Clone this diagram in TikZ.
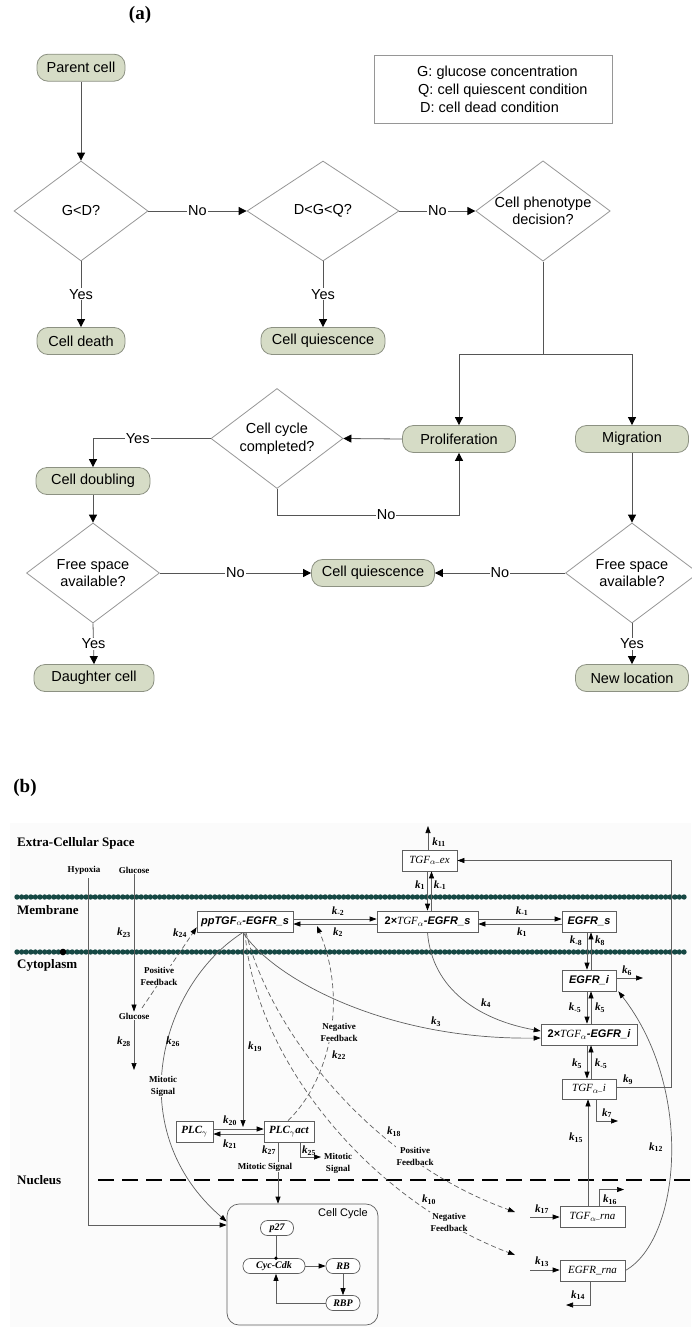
\documentclass[tikz,border=0pt]{standalone}
\usepackage{fontspec}
\setmainfont{Liberation Serif}
\setsansfont{Liberation Sans}
\usetikzlibrary{shapes.geometric,arrows.meta,calc}

\definecolor{termfill}{RGB}{214,220,198}
\definecolor{termdraw}{RGB}{140,145,130}
\definecolor{diadraw}{RGB}{150,150,150}
\definecolor{linea}{RGB}{85,85,85}
\definecolor{lineb}{RGB}{95,95,95}
\definecolor{memb}{RGB}{22,72,68}
\definecolor{bgb}{RGB}{251,251,251}

\newcommand{\kk}[1]{\textbf{\textit{k}}\textsubscript{\textbf{#1}}}
\newcommand{\al}{\textsubscript{$\alpha$}}
\newcommand{\sbi}{\sffamily\bfseries\itshape}
\newcommand{\rit}{\rmfamily\itshape}

\tikzset{
  term/.style={draw=termdraw, fill=termfill, rounded corners=11pt, minimum height=27pt, inner sep=0pt, line width=0.8pt, font=\sffamily\fontsize{14.5}{17.5}\selectfont},
  decis/.style={diamond, aspect=1.34, draw=diadraw, inner sep=0pt, minimum width=134pt, minimum height=100pt, line width=0.8pt, align=center, font=\sffamily\fontsize{14.5}{17.5}\selectfont},
  arra/.style={draw=linea, line width=0.8pt, -{Triangle[length=8pt,width=8pt,color=black]}},
  plaina/.style={draw=linea, line width=0.8pt},
  laba/.style={fill=white, inner sep=1pt, font=\sffamily\fontsize{14.5}{17.5}\selectfont},
  boxb/.style={draw=lineb, fill=white, inner sep=0pt, minimum height=21pt, line width=0.7pt, font=\fontsize{11}{13}\selectfont},
  ccn/.style={draw=lineb, fill=white, rounded corners=7pt, inner sep=0pt, minimum height=15pt, line width=0.7pt, font=\rmfamily\bfseries\itshape\fontsize{10}{12}\selectfont},
  lb/.style={draw=lineb, line width=0.7pt},
  ab/.style={lb, -{Triangle[length=7pt,width=5pt,color=black]}},
  db/.style={ab, dash pattern=on 5pt off 3pt},
  kl/.style={inner sep=0pt, font=\fontsize{11}{13}\selectfont},
  sl/.style={inner sep=1pt, align=center, font=\bfseries\fontsize{9}{12}\selectfont},
  slw/.style={sl, fill=bgb},
  reg/.style={inner sep=0pt, anchor=west, font=\bfseries\fontsize{13}{15}\selectfont},
}

\begin{document}
\begin{tikzpicture}[x=1pt,y=-1pt]
\useasboundingbox (0,0) rectangle (691,1327);

% ================= (a) =================
\node[font=\bfseries\fontsize{19}{22}\selectfont] (la) at (140,15) {(a)};

\node[term, minimum width=88pt] (parent) at (81,67.7) {Parent cell};
\node[draw=diadraw, line width=0.8pt, minimum width=238pt, minimum height=68pt] (legend) at (493,89) {};
\node[anchor=west, align=left, inner sep=0pt, font=\sffamily\fontsize{14.5}{18}\selectfont] (legtext) at (417,89)
  {G: glucose concentration\\\hspace{1pt}Q: cell quiescent condition\\\hspace{3pt}D: cell dead condition};

\node[decis] (d1) at (81,211) {G<D?};
\node[decis, minimum width=152pt] (d2) at (323,211) {D<G<Q?};
\node[decis] (d3) at (543,211) {Cell phenotype\\decision?};

\node[term, minimum width=88pt] (death) at (81,341) {Cell death};
\node[term, minimum width=124pt] (quies1) at (323,341) {Cell quiescence};

\node[term, minimum width=113pt] (prolif) at (459,439) {Proliferation};
\node[term, minimum width=113pt] (migr) at (632,439) {Migration};
\node[decis, minimum width=132pt] (d4) at (277,438.5) {Cell cycle\\completed?};

\node[term, minimum width=114pt] (doubling) at (93,481) {Cell doubling};
\node[decis, minimum width=133pt] (d5) at (93,573) {Free space\\available?};
\node[term, minimum width=123pt] (quies2) at (373,573) {Cell quiescence};
\node[decis, minimum width=133pt] (d6) at (632,573) {Free space\\available?};

\node[term, minimum width=120pt] (daughter) at (94,678) {Daughter cell};
\node[term, minimum width=113pt] (newloc) at (632,678) {New location};

\draw[arra] (parent.south) -- (d1.north);
\draw[arra] (d1.east) -- node[laba] (no1) {No} (d2.west);
\draw[arra] (d2.east) -- node[laba] (no2) {No} (d3.west);
\draw[arra] (d1.south) -- node[laba] (yes1) {Yes} (death.north);
\draw[arra] (d2.south) -- node[laba] (yes2) {Yes} (quies1.north);

\coordinate (split) at (543,354);
\draw[plaina] (d3.south) -- (split);
\draw[arra] (split) -| (prolif.north);
\draw[arra] (split) -| (migr.north);

\draw[arra] (prolif.west) -- (d4.east);
\draw[arra] (d4.south) -- ++(0,26) coordinate (c4) -| node[laba, pos=0.3] (no3) {No} (prolif.south);
\draw[arra] (d4.west) -| node[laba, pos=0.31] (yes3) {Yes} (doubling.north);
\draw[arra] (doubling.south) -- (d5.north);
\draw[arra] (d5.east) -- node[laba] (no4) {No} (quies2.west);
\draw[arra] (migr.south) -- (d6.north);
\draw[arra] (d6.west) -- node[laba] (no5) {No} (quies2.east);
\draw[arra] (d5.south) -- node[laba] (yes4) {Yes} (daughter.north);
\draw[arra] (d6.south) -- node[laba] (yes5) {Yes} (newloc.north);

% ================= (b) =================
\node[font=\bfseries\fontsize{19}{22}\selectfont] (lbb) at (25,788) {(b)};
\fill[bgb] (10,823) rectangle (691,1327);

% membranes
\foreach \i in {0,...,145} {
  \fill[memb] (17+\i*4.6,897) circle[radius=2.7pt];
  \fill[memb] (17+\i*4.6,952) circle[radius=2.7pt];
}
\fill[black] (63,952) circle[radius=3.3pt];
\draw[line width=2.3pt, dash pattern=on 16pt off 8pt] (98,1180) -- (691,1180);

\node[reg] (ecs) at (17,843) {Extra-Cellular Space};
\node[reg] (memlab) at (17,910) {Membrane};
\node[reg] (cyto) at (17,965) {Cytoplasm};
\node[reg] (nuc) at (17,1180) {Nucleus};

\node[sl] (hyp) at (84,870) {Hypoxia};
\node[sl] (glu1) at (134,870) {Glucose};
\node[sl] (glu2) at (134,1016) {Glucose};

% boxes
\node[boxb, minimum width=96pt] (ppTGF) at (245,921.5) {\sbi ppTGF\al-EGFR\_s};
\node[boxb, minimum width=101pt] (s2) at (427.5,921.5) {{\sffamily\bfseries 2×}{\rit TGF}\al{\sbi -EGFR\_s}};
\node[boxb, minimum width=54pt] (egfrs) at (589,921.5) {\sbi EGFR\_s};
\node[boxb, minimum width=55pt] (tgfex) at (429.5,860.5) {\rit TGF\textsubscript{$\alpha$–}ex};
\node[boxb, minimum width=54pt] (egfri) at (589,980.5) {\sbi EGFR\_i};
\node[boxb, minimum width=96pt] (s2i) at (589,1034.5) {{\sffamily\bfseries 2×}{\rit TGF}\al{\sbi -EGFR\_i}};
\node[boxb, minimum width=54pt, minimum height=20pt] (tgfi) at (589,1089) {\rit TGF\textsubscript{$\alpha$–}i};
\node[boxb, minimum width=65pt] (tgfrna) at (592.5,1217) {\rit TGF\textsubscript{$\alpha$–}rna};
\node[boxb, minimum width=65pt] (egfrrna) at (592.5,1270.5) {\rit EGFR\_rna};
\node[boxb, minimum width=37pt] (plc) at (194.5,1131.5) {\rmfamily\bfseries\itshape PLC\textsubscript{$\gamma$}};
\node[boxb, minimum width=50pt] (plcact) at (289,1131.5) {\rmfamily\bfseries\itshape PLC\textsubscript{$\gamma$}act};

% cell cycle
\node[draw=lineb, line width=0.7pt, rounded corners=12pt, minimum width=151pt, minimum height=121pt, inner sep=0pt] (cc) at (302.5,1264.5) {};
\node[inner sep=0pt, font=\sffamily\fontsize{11}{13}\selectfont] (cclab) at (343,1214) {Cell Cycle};
\node[ccn, minimum width=33pt] (p27) at (277,1228) {p27};
\node[ccn, minimum width=62pt] (cyc) at (274,1266) {Cyc-Cdk};
\node[ccn, minimum width=34pt] (rb) at (343,1266) {RB};
\node[ccn, minimum width=34pt] (rbp) at (343,1303) {RBP};

\coordinate (ccx) at (276,0);
\draw[lb] (p27.south -| ccx) -- (cyc.north -| ccx);
\fill (cyc.north -| ccx) circle[radius=1.9pt];
\draw[ab] (cyc.east) -- (rb.west);
\draw[ab] (rb.south) -- (rbp.north);
\draw[ab] (rbp.west) -| (cyc.south -| ccx);

% TGF_ex k11
\coordinate (k11end) at (428,826);
\draw[ab] (tgfex.north -| k11end) -- (k11end);
\node[kl] (lk11) at (439,842) {\kk{11}};

% tgfex <-> s2
\coordinate (v1a) at (427.5,0); \coordinate (v1b) at (431.5,0);
\draw[ab] (tgfex.south -| v1a) -- (s2.north -| v1a);
\draw[ab] (s2.north -| v1b) -- (tgfex.south -| v1b);
\node[kl] (lk1a) at (420,885) {\kk{1}};
\node[kl] (lkm1a) at (440,885) {\kk{-1}};

% ppTGF <-> s2 <-> egfrs
\coordinate (h1a) at (0,919); \coordinate (h1b) at (0,924);
\draw[ab] (ppTGF.east |- h1a) -- (s2.west |- h1a);
\draw[ab] (s2.west |- h1b) -- (ppTGF.east |- h1b);
\node[kl] (lkm2) at (338,911) {\kk{-2}};
\node[kl] (lk2) at (338,932) {\kk{2}};
\draw[ab] (s2.east |- h1a) -- (egfrs.west |- h1a);
\draw[ab] (egfrs.west |- h1b) -- (s2.east |- h1b);
\node[kl] (lkm1b) at (522,911) {\kk{-1}};
\node[kl] (lk1b) at (522,932) {\kk{1}};

% egfrs <-> egfri <-> s2i <-> tgfi
\coordinate (v2a) at (587,0); \coordinate (v2b) at (591,0);
\draw[ab] (egfrs.south -| v2a) -- (egfri.north -| v2a);
\draw[ab] (egfri.north -| v2b) -- (egfrs.south -| v2b);
\node[kl] (lkm8) at (576,941) {\kk{-8}};
\node[kl] (lk8) at (600,941) {\kk{8}};
\draw[ab] (egfri.south -| v2a) -- (s2i.north -| v2a);
\draw[ab] (s2i.north -| v2b) -- (egfri.south -| v2b);
\node[kl] (lkm5a) at (575,1008) {\kk{-5}};
\node[kl] (lk5a) at (600,1008) {\kk{5}};
\draw[ab] (s2i.south -| v2a) -- (tgfi.north -| v2a);
\draw[ab] (tgfi.north -| v2b) -- (s2i.south -| v2b);
\node[kl] (lk5b) at (577,1064) {\kk{5}};
\node[kl] (lkm5b) at (601,1064) {\kk{-5}};

% k6
\coordinate (k6end) at (643,978);
\draw[ab] (egfri.east |- k6end) -- (k6end);
\node[kl] (lk6) at (627,971) {\kk{6}};

% k9
\coordinate (k9c) at (671,1087);
\draw[ab] (tgfi.east |- k9c) -- (k9c) |- (tgfex.east);
\node[kl] (lk9) at (628,1080) {\kk{9}};

% k7
\coordinate (k7end) at (618,1121); \coordinate (k7x) at (596,0);
\draw[ab] (tgfi.south -| k7x) |- (k7end);
\node[kl] (lk7) at (607,1113) {\kk{7}};

% k15
\coordinate (v3) at (588,0);
\draw[ab] (tgfrna.north -| v3) -- (tgfi.south -| v3);
\node[kl] (lk15) at (576,1138) {\kk{15}};

% k16
\coordinate (k16end) at (624,1189.5); \coordinate (k16x) at (599,0);
\draw[ab] (tgfrna.north -| k16x) |- (k16end);
\node[kl] (lk16) at (610,1200) {\kk{16}};

% k17, k13, k14
\coordinate (k17s) at (530,1217);
\draw[ab] (k17s) -- (tgfrna.west |- k17s);
\node[kl] (lk17) at (542,1209) {\kk{17}};
\coordinate (k13s) at (530,1270);
\draw[ab] (k13s) -- (egfrrna.west |- k13s);
\node[kl] (lk13) at (542,1262) {\kk{13}};
\coordinate (k14end) at (566,1305); \coordinate (k14x) at (590,0);
\draw[ab] (egfrrna.south -| k14x) |- (k14end);
\node[kl] (lk14) at (578,1295) {\kk{14}};

% k12
\draw[ab] (egfrrna.east) .. controls (680,1240) and (695,1090) .. ([xshift=2pt]egfri.south east);
\node[kl] (lk12) at (656,1147) {\kk{12}};

% k3, k4
\draw[ab] ([xshift=-2pt]ppTGF.south) .. controls (270,975) and (380,1040) .. ([yshift=-3.5pt]s2i.west);
\node[kl] (lk3) at (436,1022) {\kk{3}};
\draw[ab] (s2.south) .. controls (432,990) and (480,1020) .. ([yshift=3.5pt]s2i.west);
\node[kl] (lk4) at (486,1003) {\kk{4}};

% k26 mitotic signal
\draw[ab] ([xshift=-2pt]ppTGF.south) .. controls (160,985) and (120,1130) .. ([yshift=43pt]cc.west);
\node[kl, anchor=west] (lk26) at (166,1042) {\kk{26}};
\node[slw] (ms1) at (163,1086) {Mitotic\\Signal};

% k19
\coordinate (k19end) at (243,1127);
\draw[ab] ([xshift=-2pt]ppTGF.south) -- (k19end);
\node[kl, anchor=west] (lk19) at (248,1047) {\kk{19}};

% plc <-> plcact
\coordinate (h2a) at (0,1129); \coordinate (h2b) at (0,1134);
\draw[ab] (plc.east |- h2a) -- (plcact.west |- h2a);
\draw[ab] (plcact.west |- h2b) -- (plc.east |- h2b);
\node[kl] (lk20) at (230,1121) {\kk{20}};
\node[kl] (lk21) at (230,1144) {\kk{21}};

% k27
\coordinate (k27x) at (278,0);
\draw[ab] (plcact.south -| k27x) -- (cc.north -| k27x);
\node[kl] (lk27) at (269,1150) {\kk{27}};
\node[slw] (ms2) at (265,1167) {Mitotic Signal};

% k25
\coordinate (k25end) at (321,1157); \coordinate (k25x) at (300,0);
\draw[ab] (plcact.south -| k25x) |- (k25end);
\node[kl] (lk25) at (309,1151) {\kk{25}};
\node[sl] (ms3) at (338,1163) {Mitotic\\Signal};

% k22 negative feedback
\coordinate (k22end) at (317,926);
\draw[db] ([xshift=-1pt]plcact.north) .. controls (330,1080) and (348,1000) .. (k22end);
\node[slw] (nf1) at (339,1032) {Negative\\Feedback};
\node[kl, anchor=west] (lk22) at (332,1055) {\kk{22}};

% k18 positive feedback
\coordinate (k18end) at (515,1212);
\draw[db] ([xshift=1pt]ppTGF.south) .. controls (270,1030) and (370,1160) .. (k18end);
\node[kl] (lk18) at (394,1132) {\kk{18}};
\node[slw] (pf2) at (415,1156) {Positive\\Feedback};

% k10 negative feedback
\coordinate (k10end) at (515,1255);
\draw[db] (ppTGF.south) .. controls (255,1060) and (370,1200) .. (k10end);
\node[kl] (lk10) at (429,1200) {\kk{10}};
\node[slw] (nf2) at (449,1222) {Negative\\Feedback};

% k24 positive feedback
\coordinate (k24s) at (142,1008);
\draw[db] (k24s) -- ([yshift=5pt]ppTGF.south west);
\node[slw] (pf1) at (159,976) {Positive\\Feedback};
\node[kl] (lk24) at (180,933) {\kk{24}};

% hypoxia and glucose
\coordinate (hypS) at (88,878);
\draw[ab] (hypS) |- ([yshift=39.5pt]cc.west);
\draw[ab] (glu1.south) -- (glu2.north);
\node[kl, anchor=east] (lk23) at (131,933) {\kk{23}};
\coordinate (k28end) at (134,1070);
\draw[ab] (glu2.south) -- (k28end);
\node[kl, anchor=east] (lk28) at (131,1042) {\kk{28}};

\end{tikzpicture}
\end{document}
